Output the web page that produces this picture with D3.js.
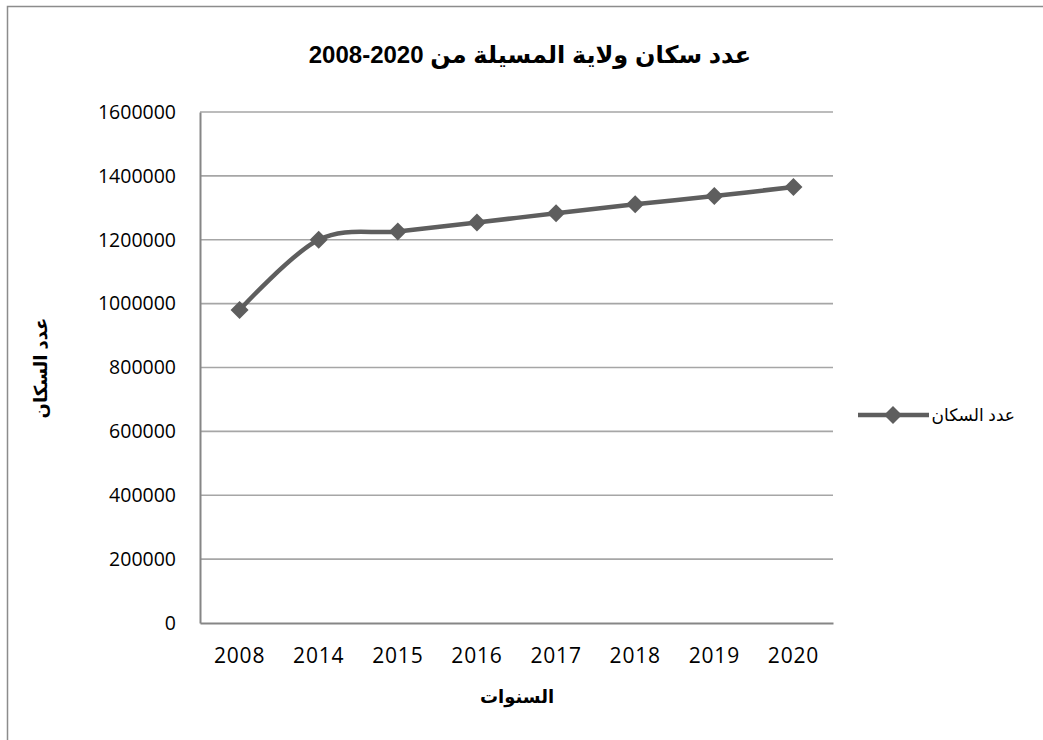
<!DOCTYPE html>
<html>
<head>
<meta charset="utf-8">
<script src="https://cdn.jsdelivr.net/npm/d3@7"></script>
<style>
  html, body { margin: 0; padding: 0; background: #fff; }
  svg { display: block; }
</style>
</head>
<body>
<script>
// Population of M'Sila province, 2008-2020
const years = ["2008", "2014", "2015", "2016", "2017", "2018", "2019", "2020"];
const population = [980000, 1200000, 1226000, 1254000, 1283000, 1311000, 1337000, 1365000];
const yTicks = [0, 200000, 400000, 600000, 800000, 1000000, 1200000, 1400000, 1600000];

// the year range is isolated left-to-right inside the Arabic title
const titleText = "عدد سكان ولاية المسيلة من \u20662008-2020\u2069";
const yTitle = "عدد السكان";
const xTitle = "السنوات";
const legendLabel = "عدد السكان";

const W = 1043, H = 740;
const plot = { left: 200, right: 833, top: 112, bottom: 623 };
const lineColor = "#5e5e5e";
const arabicFont = "Arial, 'Liberation Sans', 'DejaVu Sans', sans-serif";
const numFont = "'Open Sans', Lato, sans-serif";

const svg = d3.select("body").append("svg")
  .attr("width", W).attr("height", H);

// chart frame
svg.append("path")
  .attr("d", `M7.5,${H} V6.5 H${W}`)
  .attr("fill", "none").attr("stroke", "#8c8c8c").attr("stroke-width", 1.5);

const x = d3.scaleBand().domain(years).range([plot.left, plot.right]);
const y = d3.scaleLinear().domain([0, 1600000]).range([plot.bottom, plot.top]);

// horizontal gridlines
svg.append("g").selectAll("line").data(yTicks.filter(d => d > 0)).join("line")
  .attr("x1", plot.left).attr("x2", plot.right)
  .attr("y1", d => y(d)).attr("y2", d => y(d))
  .attr("stroke", "#a6a6a6").attr("stroke-width", 1.6);

// y axis
const yAxis = svg.append("g")
  .attr("transform", `translate(${plot.left},0)`)
  .call(d3.axisLeft(y).tickValues(yTicks).tickFormat(d3.format("d")).tickSize(0).tickPadding(24));
yAxis.select(".domain").attr("stroke", "#868686").attr("stroke-width", 2);
yAxis.selectAll("text")
  .attr("font-family", numFont).attr("font-size", 19.5).attr("fill", "#000");

// x axis
const xAxis = svg.append("g")
  .attr("transform", `translate(0,${plot.bottom})`)
  .call(d3.axisBottom(x).tickSize(0).tickPadding(25));
xAxis.select(".domain").attr("stroke", "#868686").attr("stroke-width", 2);
xAxis.selectAll("text")
  .attr("font-family", numFont).attr("font-size", 21).attr("letter-spacing", 0.8).attr("fill", "#000");

// smoothed population line
const cx = d => x(d) + x.bandwidth() / 2;
const line = d3.line()
  .x((d, i) => cx(years[i]))
  .y(d => y(d))
  .curve(d3.curveCardinal.tension(0));

svg.append("path")
  .datum(population)
  .attr("d", line)
  .attr("fill", "none")
  .attr("stroke", lineColor)
  .attr("stroke-width", 4.5)
  .attr("stroke-linejoin", "round");

// diamond markers
const diamond = s => `M0,${-s} L${s},0 L0,${s} L${-s},0 Z`;
svg.append("g").selectAll("path").data(population).join("path")
  .attr("transform", (d, i) => `translate(${cx(years[i])},${y(d)})`)
  .attr("d", diamond(9))
  .attr("fill", lineColor);

// title
svg.append("text")
  .attr("x", 530).attr("y", 63)
  .attr("text-anchor", "middle")
  .attr("font-family", arabicFont).attr("font-weight", "bold").attr("font-size", 24)
  .attr("direction", "rtl")
  .text(titleText);

// y axis title
svg.append("text")
  .attr("transform", "translate(47,368) rotate(-90)")
  .attr("text-anchor", "middle")
  .attr("font-family", arabicFont).attr("font-weight", "bold").attr("font-size", 18)
  .attr("direction", "rtl")
  .text(yTitle);

// x axis title
svg.append("text")
  .attr("x", 517).attr("y", 703)
  .attr("text-anchor", "middle")
  .attr("font-family", arabicFont).attr("font-weight", "bold").attr("font-size", 18)
  .attr("direction", "rtl")
  .text(xTitle);

// legend
const lg = svg.append("g").attr("transform", "translate(0,415)");
lg.append("line")
  .attr("x1", 858).attr("x2", 929).attr("y1", 0).attr("y2", 0)
  .attr("stroke", lineColor).attr("stroke-width", 4.5);
lg.append("path")
  .attr("transform", "translate(893,0)")
  .attr("d", diamond(9))
  .attr("fill", lineColor);
lg.append("text")
  .attr("x", 1015).attr("y", 6)
  .attr("text-anchor", "start")
  .attr("direction", "rtl")
  .attr("font-family", arabicFont).attr("font-size", 17)
  .text(legendLabel);
</script>
</body>
</html>
